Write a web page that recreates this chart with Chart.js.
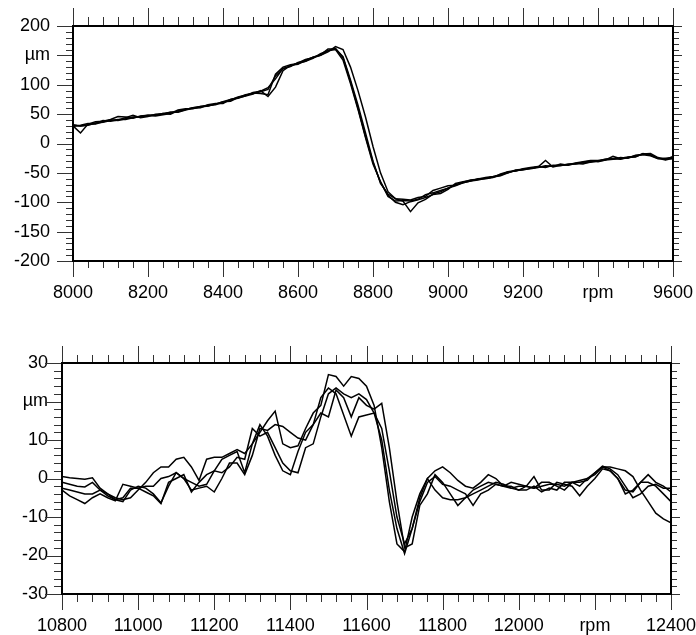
<!DOCTYPE html>
<html>
<head>
<meta charset="utf-8">
<title>Run-up deflection</title>
<script src="https://cdn.jsdelivr.net/npm/chart.js@4.4.1/dist/chart.umd.min.js"></script>
<style>
    html, body { margin: 0; padding: 0; background: #ffffff; }
    canvas { display: block; }
</style>
</head>
<body>
<canvas id="topChart" width="696" height="318"></canvas>
<canvas id="bottomChart" width="696" height="317"></canvas>
<script>
// ---- data ----
const topRpm = [8000,8020,8040,8060,8080,8100,8120,8140,8160,8180,8200,8220,8240,8260,8280,8300,8320,8340,8360,8380,
    8400,8420,8440,8460,8480,8500,8520,8540,8560,8580,8600,8620,8640,8660,8680,8700,8720,8740,8760,8780,
    8800,8820,8840,8860,8880,8900,8920,8940,8960,8980,9000,9020,9040,9060,9080,9100,9120,9140,9160,9180,
    9200,9220,9240,9260,9280,9300,9320,9340,9360,9380,9400,9420,9440,9460,9480,9500,9520,9540,9560,9580,9600];

const topRun1 = [30,18,33,37,38,41,46,45,43,47, 48,49,51,50,56,58,61,63,64,67, 71,72,78,81,84,90,80,96,124,133,
    135,142,147,150,156,165,160,130,90,45, -5,-50,-82,-94,-98,-116,-101,-95,-86,-82,
    -76,-70,-67,-64,-60,-59,-57,-55,-50,-46, -45,-42,-40,-29,-40,-37,-36,-33,-31,-29,
    -29,-27,-26,-25,-23,-22,-18,-17,-24,-27, -22];
const topRun2 = [32,30,32,34,39,38,40,44,48,44, 46,50,50,53,53,57,60,61,66,68, 68,75,77,81,87,89,95,110,128,131,
    138,140,145,153,158,162,146,105,60,12, -32,-66,-88,-100,-104,-99,-96,-92,-87,-85,
    -78,-68,-65,-63,-61,-60,-58,-52,-48,-47, -43,-41,-39,-41,-37,-38,-35,-35,-32,-30,
    -31,-28,-27,-24,-25,-20,-19,-21,-26,-25, -24];
const topRun3 = [29,31,34,33,37,40,39,42,45,46, 48,47,49,51,57,59,59,63,65,66, 70,74,79,82,86,85,83,118,130,134,
    136,140,147,151,161,161,148,108,65,18, -30,-68,-86,-94,-95,-96,-92,-90,-80,-76,
    -72,-71,-66,-62,-61,-58,-56,-53,-50,-45, -44,-43,-41,-38,-39,-35,-37,-34,-35,-31,
    -30,-28,-22,-26,-24,-23,-17,-20,-25,-28, -25];
const topRun4 = [31,30,31,35,36,39,41,41,44,46, 47,48,51,53,54,58,61,62,64,67, 71,75,78,83,85,88,92,115,127,132,
    137,143,146,150,158,160,142,102,58,10, -35,-65,-90,-98,-97,-98,-95,-87,-84,-80,
    -76,-72,-67,-64,-62,-59,-57,-54,-48,-47, -44,-42,-40,-39,-38,-37,-36,-34,-33,-32,
    -30,-27,-26,-27,-24,-21,-18,-19,-25,-26, -26];

const bottomRpm = [10800,10820,10840,10860,10880,10900,10920,10940,10960,10980,11000,11020,11040,11060,11080,11100,11120,11140,11160,11180,
    11200,11220,11240,11260,11280,11300,11320,11340,11360,11380,11400,11420,11440,11460,11480,11500,11520,11540,11560,11580,
    11600,11620,11640,11660,11680,11700,11720,11740,11760,11780,11800,11820,11840,11860,11880,11900,11920,11940,11960,11980,
    12000,12020,12040,12060,12080,12100,12120,12140,12160,12180,12200,12220,12240,12260,12280,12300,12320,12340,12360,12380,12400];

const bottomRun1 = [0.5,0.2,0,-0.2,0.2,-2.5,-4,-5,-5.5,-5, -3,-1,1.5,3,3,5,5.5,3,-0.5,5,
    5.5,5.5,6.5,7.5,6.5,9,12,15,17.5,9, 8,8.5,13,17,19,27,26.5,24,26.5,26,
    24,19,8,-6,-17,-19,-10,-4,0,2, 3,1.5,-0.5,-2,-2.5,-1,1,0,-2,-2.5,
    -2,-2,-2.5,-1,-1,-2,-3,-1,-0.5,0, 1.5,3,3,2.5,2,0.5,-3,-6,-9,-10.5, -11.5];
const bottomRun2 = [-1,-1.5,-2,-2.2,-1,-3,-4.5,-5.5,-6,-3, -2,-2.5,-4,-6.3,-2,1.5,0,-3,-2.5,-2,
    -3.5,0,4,4,1,6,13,12.5,14,13.5, 12,10.5,10,14,17,16,23,21,16,21,
    19,18,19.5,8,-6,-18,-17,-7,-4,1, -1,-4,-7,-5,-3,-2,-1,-1.5,-2,-2,
    -3,-2,-2.5,-2,-1.5,-1.5,-2,-1,-1,-0.5, 1.5,3.2,2.5,1,-2,-5,-4,-2,-1.5,-2.5, -2.5];
const bottomRun3 = [-2.5,-3,-3.5,-4,-4,-3,-4,-5.5,-5,-2.5, -2.5,-2,-2,0,0.5,1.5,0,-1,-2,-1.5,
    2,1.5,3,5.5,5,13,11,12,8,4, 2,1.5,8,9,16,22,23.5,22,21,22,
    20.5,17,10,-3,-13,-19.5,-13,-5,0,-3, -5,-5.5,-5.5,-5,-4,-3,-2,-1,-1.5,-2.5,
    -3,-3,-2,-3.5,-2.5,-3,-1,-1,-2,0, 1,3,2,0,-4,-3,-1,-1,-2,-4, -6];
const bottomRun4 = [-3,-4.5,-5.5,-6.5,-5,-4,-5,-5.8,-1.5,-2, -2.5,-3.5,-4.5,-6.5,-1,0,1,-3.5,-1,1,
    2,5,6,7,1.5,9,14,11,6,2, 1,7,12,14,21,23.5,22,16.5,11,16,
    16.5,17,13,2,-10,-17,-13,-6,-1,0.5, -1.5,-2,-3,-4,-7,-4,-3,-1.5,-2,-1,
    -1.5,-2,0.5,-3,-3,-1,-1.5,-2,-4.5,-2, 0,2.5,2,0,-3,-3.5,-1,1,-1,-2, -3.5];

// tick label positions and texts
const topXTicks = [8000, 8200, 8400, 8600, 8800, 9000, 9200, 9400, 9600];
const topXLabels = ['8000', '8200', '8400', '8600', '8800', '9000', '9200', 'rpm', '9600'];
const topYTicks = [200, 150, 100, 50, 0, -50, -100, -150, -200];
const topYLabels = ['200', 'µm', '100', '50', '0', '-50', '-100', '-150', '-200'];

const bottomXTicks = [10800, 11000, 11200, 11400, 11600, 11800, 12000, 12200, 12400];
const bottomXLabels = ['10800', '11000', '11200', '11400', '11600', '11800', '12000', 'rpm', '12400'];
const bottomYTicks = [30, 20, 10, 0, -10, -20, -30];
const bottomYLabels = ['30', 'µm', '10', '0', '-10', '-20', '-30'];

const labelFont = { family: "'Liberation Sans', Arial, sans-serif", size: 18 };

// Draws the tick marks on all four sides plus the heavy frame
const axisDecor = {
    id: 'axisDecor',
    afterDraw(chart, args, opts) {
        const ctx = chart.ctx;
        const a = chart.chartArea;
        const xs = chart.scales.x;
        const ys = chart.scales.y;

        function seg(x1, y1, x2, y2) {
            ctx.beginPath();
            ctx.moveTo(x1, y1);
            ctx.lineTo(x2, y2);
            ctx.stroke();
        }
        function isMajor(v, step) {
            return Math.abs(v / step - Math.round(v / step)) < 1e-6;
        }

        ctx.save();
        ctx.strokeStyle = '#333';
        ctx.lineWidth = 1;

        // rpm ticks, top and bottom edges
        for (let v = xs.min; v <= xs.max + 1e-6; v += opts.xMinor) {
            const px = Math.round(xs.getPixelForValue(v)) + 0.5;
            const major = isMajor(v, opts.xMajor);
            seg(px, a.top, px, a.top - (major ? opts.len.top[0] : opts.len.top[1]));
            seg(px, a.bottom, px, a.bottom + (major ? opts.len.bottom[0] : opts.len.bottom[1]));
        }

        // µm ticks, left and right edges
        for (let v = ys.min; v <= ys.max + 1e-6; v += opts.yMinor) {
            const py = Math.round(ys.getPixelForValue(v)) + 0.5;
            const major = isMajor(v, opts.yMajor);
            seg(a.left, py, a.left - (major ? opts.len.left[0] : opts.len.left[1]), py);
            seg(a.right, py, a.right + (major ? opts.len.right[0] : opts.len.right[1]), py);
        }

        ctx.strokeStyle = '#000';
        ctx.lineWidth = 2;
        ctx.strokeRect(a.left, a.top, a.right - a.left, a.bottom - a.top);
        ctx.restore();
    }
};

// label overhang is already covered by layout padding, so drop the scale's own
function noScalePadding(scale) {
    scale.paddingLeft = 0;
    scale.paddingRight = 0;
    scale.paddingTop = 0;
    scale.paddingBottom = 0;
}

function makeDatasets(rpm, runs) {
    return runs.map(function(run) {
        return {
            data: rpm.map(function(r, i) { return { x: r, y: run[i] }; }),
            borderColor: '#000000',
            borderWidth: 1.5,
            pointRadius: 0,
            tension: 0,
            fill: false
        };
    });
}

function buildChart(canvasId, cfg) {
    return new Chart(document.getElementById(canvasId), {
        type: 'line',
        data: { datasets: makeDatasets(cfg.rpm, cfg.runs) },
        options: {
            responsive: false,
            animation: false,
            events: [],
            layout: { padding: { top: cfg.padTop, right: cfg.padRight, left: 0, bottom: 0 } },
            plugins: {
                legend: { display: false },
                tooltip: { enabled: false },
                axisDecor: cfg.decor
            },
            scales: {
                x: {
                    type: 'linear',
                    min: cfg.xTicks[0],
                    max: cfg.xTicks[cfg.xTicks.length - 1],
                    afterBuildTicks: function(scale) {
                        scale.ticks = cfg.xTicks.map(function(v) { return { value: v }; });
                    },
                    afterFit: function(scale) {
                        scale.height = cfg.xHeight;
                        noScalePadding(scale);
                    },
                    grid: { display: false, drawTicks: false, tickLength: 0 },
                    border: { display: false },
                    ticks: {
                        autoSkip: false,
                        maxRotation: 0,
                        padding: cfg.xPad,
                        color: '#000',
                        font: labelFont,
                        callback: function(v) { return cfg.xLabels[cfg.xTicks.indexOf(v)]; }
                    }
                },
                y: {
                    type: 'linear',
                    min: cfg.yTicks[cfg.yTicks.length - 1],
                    max: cfg.yTicks[0],
                    afterBuildTicks: function(scale) {
                        scale.ticks = cfg.yTicks.map(function(v) { return { value: v }; });
                    },
                    afterFit: function(scale) {
                        scale.width = cfg.yWidth;
                        noScalePadding(scale);
                    },
                    grid: { display: false, drawTicks: false, tickLength: 0 },
                    border: { display: false },
                    ticks: {
                        padding: cfg.yPad,
                        color: '#000',
                        font: labelFont,
                        callback: function(v) { return cfg.yLabels[cfg.yTicks.indexOf(v)]; }
                    }
                }
            }
        },
        plugins: [axisDecor]
    });
}

// Upper panel: 8000 - 9600 rpm
buildChart('topChart', {
    rpm: topRpm,
    runs: [topRun1, topRun2, topRun3, topRun4],
    xTicks: topXTicks, xLabels: topXLabels,
    yTicks: topYTicks, yLabels: topYLabels,
    padTop: 26, padRight: 23,
    xHeight: 57, yWidth: 73,
    xPad: 21, yPad: 23,
    decor: {
        xMinor: 40, xMajor: 200, yMinor: 10, yMajor: 50,
        len: { top: [18, 9], bottom: [16, 7], left: [16, 7], right: [9, 6] }
    }
});

// Lower panel: 10800 - 12400 rpm
buildChart('bottomChart', {
    rpm: bottomRpm,
    runs: [bottomRun1, bottomRun2, bottomRun3, bottomRun4],
    xTicks: bottomXTicks, xLabels: bottomXLabels,
    yTicks: bottomYTicks, yLabels: bottomYLabels,
    padTop: 45, padRight: 25,
    xHeight: 41, yWidth: 62,
    xPad: 21, yPad: 14,
    decor: {
        xMinor: 40, xMajor: 200, yMinor: 2, yMajor: 10,
        len: { top: [17, 8], bottom: [16, 8], left: [17, 8], right: [9, 6] }
    }
});
</script>
</body>
</html>
